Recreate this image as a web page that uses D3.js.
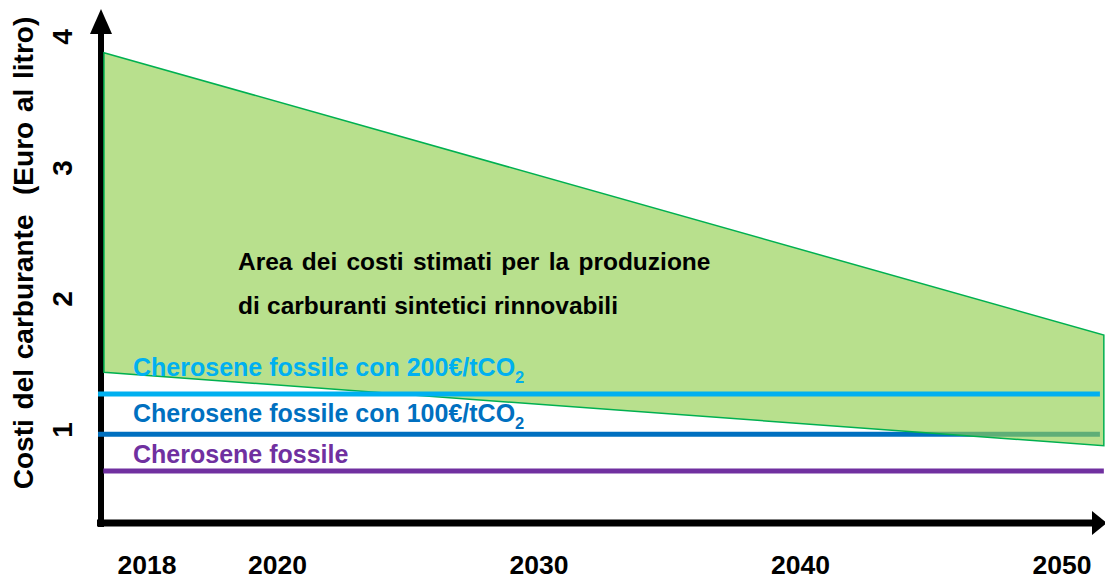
<!DOCTYPE html>
<html>
<head>
<meta charset="utf-8">
<script src="https://cdn.jsdelivr.net/npm/d3@7"></script>
<style>
  html, body { margin: 0; padding: 0; background: #ffffff; }
  svg { display: block; font-family: "Liberation Sans", Arial, sans-serif; font-weight: bold; }
</style>
</head>
<body>
<svg id="chart" width="1105" height="580"></svg>
<script>
// ---- data ----
const xTickYears = [2018, 2020, 2030, 2040, 2050];
const xTickLabels = ["2018", "2020", "2030", "2040", "2050"];
const yTicks = [1, 2, 3, 4];
const yTickLabels = ["1", "2", "3", "4"];

// estimated cost band for renewable synthetic fuels (Euro / litre)
const bandYears = [2017.34, 2051.6];
const bandUpper = [3.88, 1.725];
const bandLower = [1.44, 0.88];

// fossil kerosene reference levels
const refNames = ["Cherosene fossile con 200€/tCO", "Cherosene fossile con 100€/tCO", "Cherosene fossile"];
const refSub = ["2", "2", ""];
const refValues = [1.275, 0.967, 0.687];
const refStart = [2017.25, 2017.25, 2017.33];
const refEnd = [2051.45, 2051.45, 2051.6];
const refColors = ["#00b0f0", "#0070c0", "#7030a0"];

const yTitle = "Costi del carburante  (Euro al litro)";
const areaText = ["Area dei costi stimati per la produzione", "di carburanti sintetici rinnovabili"];

// ---- scales ----
const svg = d3.select("#chart");
const x = d3.scaleLinear().domain([2018, 2020, 2050]).range([147, 277.5, 1062]);
const y = d3.scaleLinear().domain([0, 4]).range([561, 37]);

// ---- axes (arrows) ----
const axisG = svg.append("g");
axisG.append("line").attr("x1", 101).attr("x2", 101).attr("y1", 527).attr("y2", 30)
  .attr("stroke", "#000").attr("stroke-width", 6);
axisG.append("path").attr("d", "M101,9 L90,34 L112,34 Z").attr("fill", "#000");
axisG.append("line").attr("x1", 97).attr("x2", 1096).attr("y1", 523).attr("y2", 523)
  .attr("stroke", "#000").attr("stroke-width", 7);
axisG.append("path").attr("d", "M1107,523 L1092,511 L1092,535 Z").attr("fill", "#000");

// ---- reference line drawn below the band (100€) ----
function refLine(i) {
  svg.append("line")
    .attr("x1", x(refStart[i])).attr("x2", x(refEnd[i]))
    .attr("y1", y(refValues[i])).attr("y2", y(refValues[i]))
    .attr("stroke", refColors[i]).attr("stroke-width", 5);
}
refLine(1);

// ---- band ----
const bandData = bandYears.map((yr, i) => ({ yr, lo: bandLower[i], hi: bandUpper[i] }));
const area = d3.area().x(d => x(d.yr)).y0(d => y(d.lo)).y1(d => y(d.hi));
svg.append("path").datum(bandData).attr("d", d => area(d) + "Z")
  .attr("fill", "#92d050").attr("fill-opacity", 0.65)
  .attr("stroke", "#00b050").attr("stroke-width", 1.5).attr("stroke-linejoin", "miter");

refLine(0);
refLine(2);

// ---- y tick labels (rotated) ----
svg.append("g").selectAll("text").data(yTicks).join("text")
  .attr("transform", d => `translate(72,${y(d)}) rotate(-90)`)
  .attr("text-anchor", "middle")
  .attr("font-size", 28).attr("fill", "#000")
  .text((d, i) => yTickLabels[i]);

// ---- y title ----
svg.append("text")
  .attr("transform", "translate(33,253) rotate(-90)")
  .attr("text-anchor", "middle")
  .attr("font-size", 28).attr("fill", "#000")
  .style("white-space", "pre")
  .style("word-spacing", "2px")
  .attr("xml:space", "preserve")
  .text(yTitle);

// ---- x tick labels ----
svg.append("g").selectAll("text").data(xTickYears).join("text")
  .attr("x", d => x(d)).attr("y", 574)
  .attr("text-anchor", "middle")
  .attr("font-size", 26.5).attr("fill", "#000")
  .text((d, i) => xTickLabels[i]);

// ---- reference labels ----
const labelBaselines = [376, 422, 463];
refNames.forEach((name, i) => {
  const t = svg.append("text").attr("x", 133).attr("y", labelBaselines[i])
    .attr("font-size", 25).attr("fill", refColors[i]).text(name);
  if (refSub[i]) {
    t.append("tspan").attr("font-size", 16.5).attr("dy", 7).text(refSub[i]);
  }
});

// ---- band label ----
areaText.forEach((line, i) => {
  svg.append("text").attr("x", 238).attr("y", 270 + i * 44)
    .attr("font-size", 24.5).attr("fill", "#000")
    .style("word-spacing", i === 0 ? "2.5px" : "0.5px")
    .text(line);
});
</script>
</body>
</html>
